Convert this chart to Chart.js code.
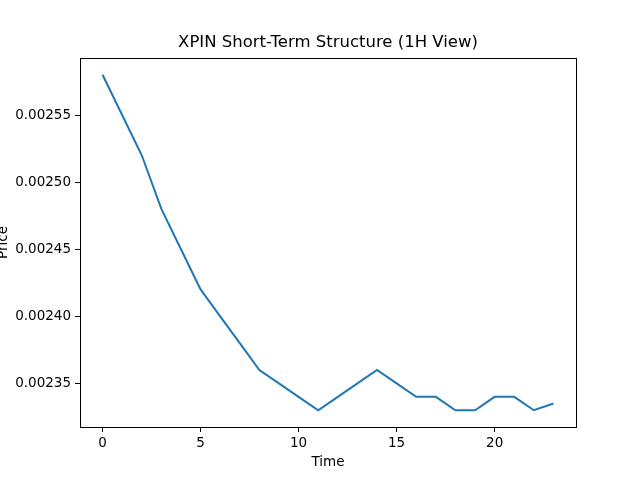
<!DOCTYPE html>
<html>
<head>
<meta charset="utf-8">
<script src="https://cdn.jsdelivr.net/npm/chart.js@4/dist/chart.umd.min.js"></script>
<style>
  html, body { margin: 0; padding: 0; background: #fff; }
  #wrap { width: 640px; height: 480px; }
</style>
</head>
<body>
<div id="wrap"><canvas id="chart" width="640" height="480"></canvas></div>
<script>
// data
const times = [0, 1, 2, 3, 4, 5, 6, 7, 8, 9, 10, 11, 12, 13, 14, 15, 16, 17, 18, 19, 20, 21, 22, 23];
const prices = [0.00258, 0.00255, 0.00252, 0.00248, 0.00245, 0.00242, 0.00240, 0.00238,
                0.00236, 0.00235, 0.00234, 0.00233, 0.00234, 0.00235, 0.00236, 0.00235,
                0.00234, 0.00234, 0.00233, 0.00233, 0.00234, 0.00234, 0.00233, 0.002335];
const xTicks = [0, 5, 10, 15, 20];
const yTicks = [0.00235, 0.00240, 0.00245, 0.00250, 0.00255];

const FONT = 'DejaVu Sans';

// frame + title + axis labels, matplotlib style
const decorations = {
  id: 'decorations',
  afterDraw(chart) {
    const { ctx, chartArea: a } = chart;
    ctx.save();
    ctx.strokeStyle = '#000';
    ctx.lineWidth = 1;
    ctx.strokeRect(Math.round(a.left) + 0.5, Math.round(a.top) + 0.5,
                   Math.round(a.right - a.left), Math.round(a.bottom - a.top));
    ctx.fillStyle = '#000';
    ctx.textAlign = 'center';
    ctx.textBaseline = 'middle';
    ctx.font = `16.5px "${FONT}"`;
    ctx.fillText('XPIN Short-Term Structure (1H View)', (a.left + a.right) / 2, 43);
    ctx.font = `13.5px "${FONT}"`;
    ctx.fillText('Time', (a.left + a.right) / 2, 462);
    ctx.translate(3, (a.top + a.bottom) / 2);
    ctx.rotate(-Math.PI / 2);
    ctx.fillText('Price', 0, 0);
    ctx.restore();
  }
};

new Chart(document.getElementById('chart'), {
  type: 'line',
  data: {
    datasets: [{
      data: times.map((t, i) => ({ x: t, y: prices[i] })),
      borderColor: '#1f77b4',
      borderWidth: 2,
      pointRadius: 0,
      tension: 0,
      fill: false
    }]
  },
  options: {
    responsive: false,
    animation: false,
    layout: { padding: { left: 0, top: 58, right: 64, bottom: 0 } },
    plugins: {
      legend: { display: false },
      tooltip: { enabled: false }
    },
    scales: {
      x: {
        type: 'linear',
        min: -1.15,
        max: 24.15,
        afterFit: s => { s.height = 53; },
        afterBuildTicks: s => { s.ticks = xTicks.map(v => ({ value: v })); },
        grid: { display: true, drawOnChartArea: false, drawTicks: true, tickLength: 5, color: '#000' },
        border: { display: true, color: '#000' },
        ticks: {
          color: '#000',
          padding: 3,
          maxRotation: 0,
          font: { family: FONT, size: 13.5 },
          callback: v => String(v)
        }
      },
      y: {
        min: 0.0023175,
        max: 0.0025925,
        afterFit: s => { s.width = 80; },
        afterBuildTicks: s => { s.ticks = yTicks.map(v => ({ value: v })); },
        grid: { display: true, drawOnChartArea: false, drawTicks: true, tickLength: 5, color: '#000' },
        border: { display: true, color: '#000' },
        ticks: {
          color: '#000',
          padding: 4,
          font: { family: FONT, size: 13.5 },
          callback: v => v.toFixed(5)
        }
      }
    }
  },
  plugins: [decorations]
});
</script>
</body>
</html>
